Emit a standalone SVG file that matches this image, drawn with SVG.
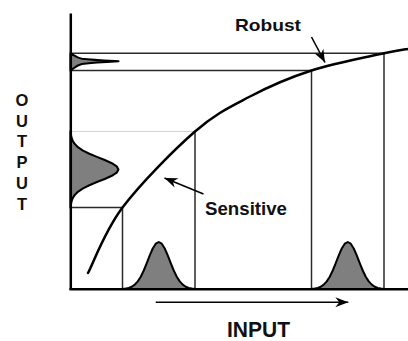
<svg xmlns="http://www.w3.org/2000/svg" width="408" height="341" viewBox="0 0 408 341">
  <style>
    .guide { stroke: #2a2a2a; stroke-width: 1.5; fill: none; }
    .faint { stroke: #d4d4d4; stroke-width: 1; fill: none; }
    .axis { stroke: #000; stroke-width: 2.5; fill: none; }
    .curve { stroke: #000; stroke-width: 2.5; fill: none; stroke-linecap: round; }
    .dist { fill: #7f7f7f; stroke: #000; stroke-width: 2; stroke-linejoin: round; }
    .arrow { stroke: #000; stroke-width: 1.6; fill: none; }
    .lbl { font-family: "Liberation Sans", Arial, sans-serif; font-weight: bold; fill: #111; }
  </style>
  <defs>
    <marker id="ah" viewBox="-14 -6 15 12" refX="0" refY="0" markerWidth="15" markerHeight="12" markerUnits="userSpaceOnUse" orient="auto">
      <path d="M0,0 L-13,-5 L-9,0 L-13,5 Z" fill="#000"/>
    </marker>
    <path id="gauss" d="M-36.5,0 L-33,-0.5 L-30,-1.1 L-27,-2.3 L-24,-4.4 L-21,-7.6 L-18,-12.3 L-15,-18.5 L-12,-25.9 L-9,-33.6 L-6,-40.5 L-3,-45.3 L0,-47 L3,-45.3 L6,-40.5 L9,-33.6 L12,-25.9 L15,-18.5 L18,-12.3 L21,-7.6 L24,-4.4 L27,-2.3 L30,-1.1 L33,-0.5 L36.5,0 Z"/>
  </defs>

  <g id="guides">
    <line class="guide" x1="70.5" y1="53.3" x2="384" y2="53.3"/>
    <line class="guide" x1="70.5" y1="70.5" x2="311.5" y2="70.5"/>
    <line class="guide" x1="311.5" y1="70.5" x2="311.5" y2="289"/>
    <line class="guide" x1="384" y1="53.3" x2="384" y2="289"/>
    <line class="faint" x1="70.5" y1="131.5" x2="195" y2="131.5"/>
    <line class="guide" x1="195" y1="131.5" x2="195" y2="289"/>
    <line class="guide" x1="70.5" y1="207.5" x2="122.5" y2="207.5"/>
    <line class="guide" x1="122.5" y1="207.5" x2="122.5" y2="289"/>
  </g>

  <g id="distributions">
    <use id="input-sensitive" href="#gauss" class="dist" transform="translate(158.75,289)"/>
    <use id="input-robust" href="#gauss" class="dist" transform="translate(347.75,289)"/>
    <use id="output-sensitive" href="#gauss" class="dist" transform="translate(70.5,169.5) rotate(90) scale(1.05,1.02)"/>
    <path id="output-robust" class="dist" d="M70.5,53.3 C74,55 76,57.6 82,58.8 C92,60 105,60.6 118.5,61.3 C105,62 92,62.8 82,64 C76,65.2 74,68.5 70.5,70.5 Z"/>
  </g>

  <g id="axes">
    <line class="axis" x1="70.8" y1="13.5" x2="70.8" y2="290"/>
    <line class="axis" x1="69.5" y1="289.3" x2="408" y2="289.3"/>
  </g>

  <g id="response-curve">
    <path class="curve" d="M88,273 C93.75,262.1 104.7,231.1 122.5,207.5 C140.3,183.9 173.75,150 195,131.5 C216.25,113 230.6,106.7 250,96.5 C269.4,86.3 289.2,77.7 311.5,70.5 C333.8,63.3 367.75,56.9 384,53.3 C400.25,49.7 404.8,49.55 409,48.8"/>
  </g>

  <g id="connectors">
    <line class="arrow" x1="155.7" y1="302.3" x2="348.3" y2="302.3" marker-end="url(#ah)"/>
    <line class="arrow" x1="311.5" y1="37" x2="325" y2="62.5" marker-end="url(#ah)"/>
    <line class="arrow" x1="203.5" y1="194" x2="164.5" y2="178" marker-end="url(#ah)"/>
  </g>

  <g id="labels">
    <text id="robust" class="lbl" x="235" y="30.7" font-size="17" textLength="66" lengthAdjust="spacingAndGlyphs">Robust</text>
    <text id="sensitive" class="lbl" x="205" y="215" font-size="18" textLength="82" lengthAdjust="spacingAndGlyphs">Sensitive</text>
    <text id="input" class="lbl" x="227" y="337.3" font-size="22" textLength="63" lengthAdjust="spacingAndGlyphs">INPUT</text>
    <g id="output" class="lbl" font-size="16.5" text-anchor="middle">
      <text x="22" y="105.5">O</text>
      <text x="22" y="126.5">U</text>
      <text x="22" y="147">T</text>
      <text x="22" y="167.5">P</text>
      <text x="22" y="189">U</text>
      <text x="22" y="210">T</text>
    </g>
  </g>
</svg>
